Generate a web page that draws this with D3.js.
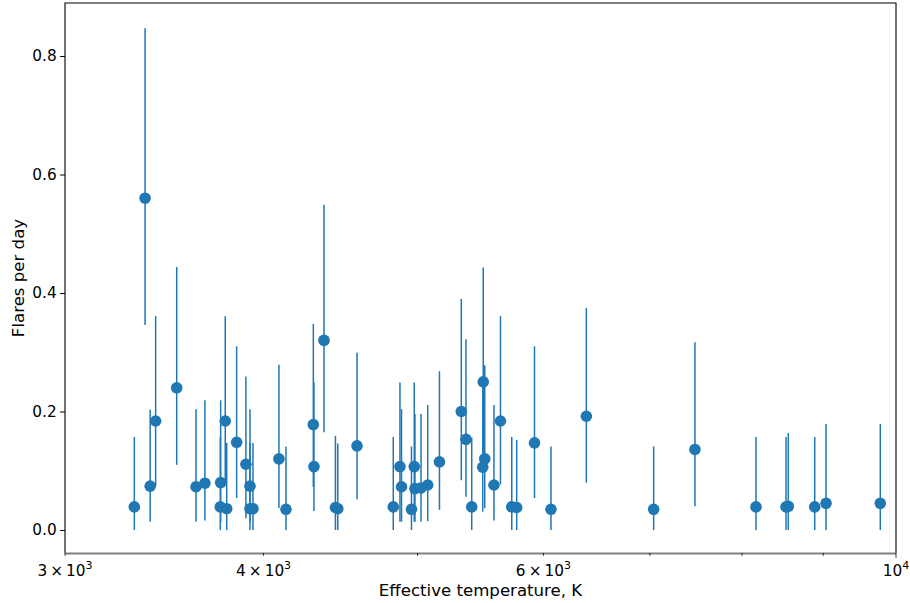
<!DOCTYPE html>
<html>
<head>
<meta charset="utf-8">
<script src="https://cdn.jsdelivr.net/npm/d3@7"></script>
<style>
  body { margin: 0; background: #fff; }
  text { font-family: "DejaVu Sans", sans-serif; }
</style>
</head>
<body>
<svg id="chart" width="910" height="603"></svg>
<script>
// effective temperature (K), flare rate and asymmetric error bars
const teff = [3317, 3369, 3394, 3421, 3527, 3627, 3674, 3759, 3757, 3792, 3784, 3847, 3899, 3922, 3922, 3939,
  4090, 4132, 4299, 4303, 4366, 4439, 4454, 4580, 4827, 4874, 4885, 4956, 4976, 4981, 5025, 5074, 5161,
  5327, 5363, 5408, 5499, 5511, 5495, 5585, 5638, 5731, 5772, 5923, 6066, 6385, 7039, 7473, 8164, 8527,
  8555, 8889, 9036, 9775];
const rate = [0.039, 0.560, 0.074, 0.184, 0.240, 0.073, 0.079, 0.080, 0.039, 0.036, 0.184, 0.148, 0.111, 0.074, 0.036, 0.036,
  0.120, 0.035, 0.178, 0.107, 0.320, 0.038, 0.036, 0.142, 0.039, 0.107, 0.073, 0.035, 0.107, 0.070, 0.071, 0.076, 0.115,
  0.200, 0.153, 0.039, 0.250, 0.120, 0.106, 0.076, 0.184, 0.039, 0.038, 0.147, 0.035, 0.192, 0.035, 0.136, 0.039, 0.039,
  0.040, 0.039, 0.045, 0.045];
const rateUpper = [0.157, 0.847, 0.203, 0.361, 0.444, 0.204, 0.219, 0.219, 0.157, 0.147, 0.361, 0.310, 0.259, 0.204, 0.147, 0.147,
  0.279, 0.141, 0.348, 0.249, 0.549, 0.159, 0.146, 0.299, 0.157, 0.249, 0.204, 0.141, 0.249, 0.196, 0.196, 0.211, 0.268,
  0.390, 0.322, 0.156, 0.443, 0.278, 0.249, 0.211, 0.361, 0.157, 0.152, 0.310, 0.141, 0.375, 0.141, 0.317, 0.157, 0.157,
  0.164, 0.157, 0.179, 0.179];
const rateLower = [0.0, 0.346, 0.014, 0.074, 0.110, 0.014, 0.016, 0.013, 0.0, 0.0, 0.076, 0.054, 0.020, 0.014, 0.0, 0.0,
  0.037, 0.0, 0.073, 0.032, 0.165, 0.0, 0.0, 0.052, 0.0, 0.014, 0.014, 0.0, 0.014, 0.014, 0.014, 0.015, 0.034,
  0.084, 0.056, 0.0, 0.117, 0.037, 0.031, 0.016, 0.077, 0.0, 0.0, 0.054, 0.0, 0.080, 0.0, 0.040, 0.0, 0.0,
  0.0, 0.0, 0.0, 0.0];

const yTicks = [0.0, 0.2, 0.4, 0.6, 0.8];
// log-axis ticks: [value, mantissa, exponent]
const xTickLabels = [[3000, "3", 3], [4000, "4", 3], [6000, "6", 3], [10000, "", 4]];
const xMinorTicks = [3000, 4000, 5000, 6000, 7000, 8000, 9000];

const data = teff.map((t, i) => ({ t: t, r: rate[i], hi: rateUpper[i], lo: rateLower[i] }));

const svg = d3.select("#chart");
const plotL = 65, plotR = 896, plotT = 3, plotB = 553;
const blue = "#1f77b4";
const tickFont = 15.3, titleFont = 16.6;

const x = d3.scaleLog().domain([3000, 10000]).range([plotL, plotR]);
const y = d3.scaleLinear().domain([-0.0388, 0.8895]).range([plotB, plotT]);

// error bars
svg.append("g").selectAll("line")
  .data(data)
  .join("line")
    .attr("x1", d => x(d.t)).attr("x2", d => x(d.t))
    .attr("y1", d => y(d.lo)).attr("y2", d => y(d.hi))
    .attr("stroke", blue)
    .attr("stroke-width", 1.5);

// markers
svg.append("g").selectAll("circle")
  .data(data)
  .join("circle")
    .attr("cx", d => x(d.t))
    .attr("cy", d => y(d.r))
    .attr("r", 5.8)
    .attr("fill", blue);

// frame
svg.append("path")
  .attr("d", `M${plotL},${plotB}V${plotT}H${plotR}V${plotB}`)
  .attr("fill", "none").attr("stroke", "#000").attr("stroke-width", 1.1);
svg.append("line")
  .attr("x1", plotL).attr("x2", plotR).attr("y1", plotB + 0.5).attr("y2", plotB + 0.5)
  .attr("stroke", "#808080").attr("stroke-width", 2);

// y axis
const yAxis = svg.append("g")
  .attr("transform", `translate(${plotL},0)`)
  .call(d3.axisLeft(y).tickValues(yTicks).tickFormat(d3.format(".1f")).tickSize(4.9).tickPadding(3.5).tickSizeOuter(0));
yAxis.select(".domain").remove();
yAxis.selectAll("text").attr("font-size", tickFont).attr("fill", "#000");

// x axis minor + major ticks
const xAxis = svg.append("g").attr("transform", `translate(0,${plotB})`);
xAxis.selectAll("line.minor")
  .data(xMinorTicks)
  .join("line")
    .attr("x1", d => x(d)).attr("x2", d => x(d))
    .attr("y1", 0).attr("y2", 2.8)
    .attr("stroke", "#000").attr("stroke-width", 0.8);
xAxis.append("line")
  .attr("x1", x(10000)).attr("x2", x(10000))
  .attr("y1", 0).attr("y2", 4.9)
  .attr("stroke", "#000").attr("stroke-width", 0.8);

const xLab = xAxis.selectAll("text.tick")
  .data(xTickLabels)
  .join("text")
    .attr("x", d => x(d[0]))
    .attr("y", 22.5)
    .attr("text-anchor", "middle")
    .attr("font-size", tickFont)
    .attr("fill", "#000");
xLab.each(function(d) {
  const t = d3.select(this);
  t.append("tspan").text(d[1] ? d[1] + "\u2009\u00d7\u200910" : "10");
  t.append("tspan").attr("dy", -7).attr("font-size", 11).text(d[2]);
});

// axis titles
svg.append("text")
  .attr("x", (plotL + plotR) / 2).attr("y", 596)
  .attr("text-anchor", "middle").attr("font-size", titleFont)
  .text("Effective temperature, K");
svg.append("text")
  .attr("transform", `translate(24,${(plotT + plotB) / 2}) rotate(-90)`)
  .attr("text-anchor", "middle").attr("font-size", titleFont)
  .text("Flares per day");
</script>
</body>
</html>
